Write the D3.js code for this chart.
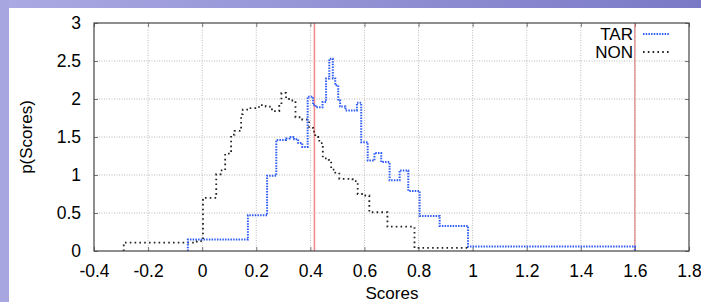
<!DOCTYPE html>
<head>
  <meta charset="utf-8">
  <script src="https://d3js.org/d3.v7.min.js"></script>
  <style>
  body,html {background:white;margin:0;font-family:"Liberation Sans",Arial,sans-serif;}
  svg {display:block;}
  .tick text {font-size:17.5px;fill:#000;}
</style>
</head>

<body>
<svg></svg>
<script>

  const width = 701;
  const height = 302;

  // NON scores: bin left edges, last entry is the right edge of the last bin
  const nonEdges = [-0.29, -0.02, 0.003, 0.052, 0.068, 0.085, 0.107, 0.12, 0.144, 0.15, 0.175, 0.21, 0.235, 0.258, 0.285, 0.293,
    0.31, 0.325, 0.345, 0.37, 0.395, 0.41, 0.418, 0.433, 0.446, 0.468, 0.477, 0.492, 0.507, 0.556, 0.575, 0.60, 0.618, 0.685, 0.785, 0.98];
  const nonHeights = [0.11, 0.13, 0.70, 1.01, 1.06, 1.28, 1.53, 1.58, 1.80, 1.86, 1.88, 1.92, 1.90, 1.84, 1.93, 2.08,
    2.00, 1.98, 1.76, 1.73, 1.62, 1.57, 1.50, 1.42, 1.22, 1.20, 1.07, 1.03, 0.95, 0.92, 0.75, 0.73, 0.51, 0.32, 0.04];

  // TAR scores
  const tarEdges = [-0.053, 0.169, 0.24, 0.274, 0.31, 0.323, 0.34, 0.355, 0.37, 0.39, 0.41, 0.42, 0.445, 0.458, 0.47, 0.483, 0.492,
    0.503, 0.51, 0.53, 0.572, 0.588, 0.612, 0.637, 0.662, 0.693, 0.73, 0.762, 0.804, 0.878, 0.983, 1.6];
  const tarHeights = [0.15, 0.47, 0.99, 1.46, 1.48, 1.50, 1.47, 1.42, 1.37, 2.03, 1.92, 1.89, 1.96, 2.27, 2.53, 2.27, 2.18,
    1.98, 1.90, 1.85, 1.95, 1.43, 1.19, 1.29, 1.17, 0.93, 1.06, 0.79, 0.46, 0.33, 0.06];

  const thresholds = [0.415, 1.6];
  const xTicks = [-0.4, -0.2, 0, 0.2, 0.4, 0.6, 0.8, 1, 1.2, 1.4, 1.6, 1.8];
  const yTicks = [0, 0.5, 1, 1.5, 2, 2.5, 3];
  const legendNames = ["TAR", "NON"];

  let svg = d3.select("svg")
    .attr("width", width)
    .attr("height", height);

  // slide background bands
  let grad = svg.append("defs").append("linearGradient").attr("id", "band");
  grad.append("stop").attr("offset", "0%").attr("stop-color", "#abaae3");
  grad.append("stop").attr("offset", "100%").attr("stop-color", "#7a79c6");
  svg.append("rect").attr("x", 0).attr("y", 0).attr("width", width).attr("height", 8).attr("fill", "url(#band)");
  svg.append("rect").attr("x", 0).attr("y", 0).attr("width", 9).attr("height", height).attr("fill", "#a7a6e0");

  let x = d3.scaleLinear().domain([-0.4, 1.8]).range([94, 689]);
  let y = d3.scaleLinear().domain([0, 3]).range([251, 23]);

  const fmt = d => String(+d.toFixed(1));

  // grid
  svg.append("g")
    .selectAll("line")
    .data(xTicks.slice(1, -1))
    .enter()
    .append("line")
    .attr("x1", d => x(d)).attr("x2", d => x(d))
    .attr("y1", y(0)).attr("y2", y(3))
    .attr("stroke", "#bbb").attr("stroke-width", 1).attr("stroke-dasharray", "1,1.5");

  svg.append("g")
    .selectAll("line")
    .data(yTicks.slice(1, -1))
    .enter()
    .append("line")
    .attr("y1", d => y(d)).attr("y2", d => y(d))
    .attr("x1", x(-0.4)).attr("x2", x(1.8))
    .attr("stroke", "#bbb").attr("stroke-width", 1).attr("stroke-dasharray", "1,1.5");

  // axes (gnuplot style inward ticks on all sides)
  svg.append("g")
    .attr("transform", `translate(0,${y(0)})`)
    .call(d3.axisBottom(x).tickValues(xTicks).tickFormat(fmt).tickSizeInner(-4).tickSizeOuter(0).tickPadding(14));
  svg.append("g")
    .attr("transform", `translate(0,${y(3)})`)
    .call(d3.axisTop(x).tickValues(xTicks).tickFormat("").tickSizeInner(-4).tickSizeOuter(0));
  svg.append("g")
    .attr("transform", `translate(${x(-0.4)},0)`)
    .call(d3.axisLeft(y).tickValues(yTicks).tickFormat(fmt).tickSizeInner(-4).tickSizeOuter(0).tickPadding(13));
  svg.append("g")
    .attr("transform", `translate(${x(1.8)},0)`)
    .call(d3.axisRight(y).tickValues(yTicks).tickFormat("").tickSizeInner(-4).tickSizeOuter(0));

  svg.selectAll(".domain").remove();
  svg.selectAll(".tick line").attr("stroke", "#777");
  svg.selectAll(".tick text").attr("font-family", "Liberation Sans, Arial, sans-serif");

  // threshold lines
  svg.append("g")
    .selectAll("line")
    .data(thresholds)
    .enter()
    .append("line")
    .attr("x1", d => x(d)).attr("x2", d => x(d))
    .attr("y1", y(0)).attr("y2", y(3))
    .attr("stroke", (d, i) => i ? "#d86a6a" : "#f28a8a")
    .attr("stroke-width", (d, i) => i ? 1 : 1.6);

  function stepPoints(edges, heights) {
    let pts = [[edges[0], 0]];
    heights.forEach((h, i) => {
      pts.push([edges[i], h]);
      pts.push([edges[i + 1], h]);
    });
    pts.push([edges[edges.length - 1], 0]);
    return pts;
  }

  const line = d3.line().x(d => x(d[0])).y(d => y(d[1]));

  svg.append("path")
    .attr("d", line(stepPoints(nonEdges, nonHeights)))
    .attr("fill", "none").attr("stroke", "#222").attr("stroke-width", 1.8)
    .attr("stroke-dasharray", "1.6,3.2");

  svg.append("path")
    .attr("d", line(stepPoints(tarEdges, tarHeights)))
    .attr("fill", "none").attr("stroke", "#2f5cf5").attr("stroke-width", 2)
    .attr("stroke-dasharray", "1.5,1.2");

  // frame
  svg.append("rect")
    .attr("x", x(-0.4)).attr("y", y(3))
    .attr("width", x(1.8) - x(-0.4)).attr("height", y(0) - y(3))
    .attr("fill", "none").attr("stroke", "#444").attr("stroke-width", 1.2);

  // legend
  let legend = svg.append("g")
    .selectAll("g")
    .data(legendNames)
    .enter()
    .append("g")
    .attr("transform", (d, i) => `translate(0,${34 + i * 18})`);
  legend.append("text")
    .attr("x", 633).attr("y", 6)
    .attr("text-anchor", "end")
    .style("font-size", "17px")
    .text(d => d);
  legend.append("line")
    .attr("x1", 643).attr("x2", 670).attr("y1", 0).attr("y2", 0)
    .attr("stroke", (d, i) => i ? "#222" : "#2f5cf5")
    .attr("stroke-width", (d, i) => i ? 1.8 : 2)
    .attr("stroke-dasharray", (d, i) => i ? "1.6,3.2" : "1.5,1.2");

  // axis titles
  svg.append("text")
    .attr("x", 392).attr("y", 299)
    .attr("text-anchor", "middle")
    .style("font-size", "17px")
    .text("Scores");
  svg.append("text")
    .attr("transform", "translate(32,137) rotate(-90)")
    .attr("text-anchor", "middle")
    .style("font-size", "17px")
    .text("p(Scores)");

</script>
</body>
